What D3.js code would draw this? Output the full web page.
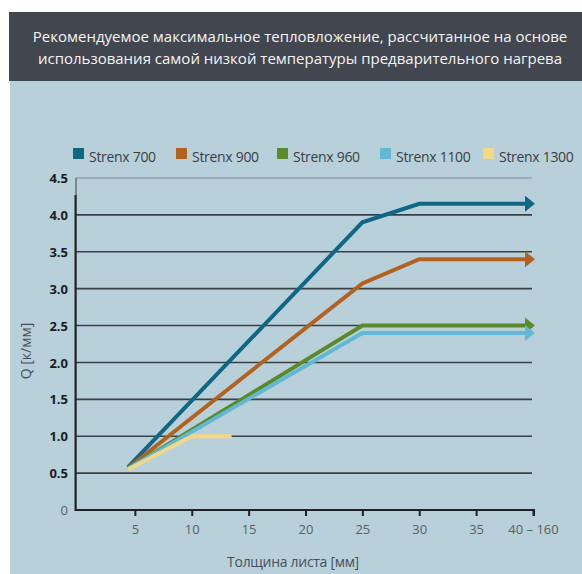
<!DOCTYPE html>
<html>
<head>
<meta charset="utf-8">
<script src="https://cdnjs.cloudflare.com/ajax/libs/d3/7.8.5/d3.min.js"></script>
<style>
  body { margin: 0; background: #fff; }
  svg { display: block; font-family: "Open Sans", "Noto Sans", sans-serif; }
</style>
</head>
<body>
<svg id="chart" width="582" height="574"></svg>
<script>
// Данные графика
const titleLines = ["Рекомендуемое максимальное тепловложение, рассчитанное на основе",
                    "использования самой низкой температуры предварительного нагрева"];
const seriesNames = ["Strenx 700", "Strenx 900", "Strenx 960", "Strenx 1100", "Strenx 1300"];
const seriesColors = ["#0f6883", "#b2611f", "#5b8a2b", "#62b7d5", "#f4d886"];
// точки: [толщина, Q]; 40 = "40 – 160"
const strenx700  = [[4.4, 0.58], [25, 3.9], [30, 4.15], [40, 4.15]];
const strenx900  = [[4.4, 0.57], [25, 3.07], [30, 3.4], [40, 3.4]];
const strenx960  = [[4.4, 0.56], [25, 2.5], [40, 2.5]];
const strenx1100 = [[4.4, 0.56], [25, 2.4], [40, 2.4]];
const strenx1300 = [[4.4, 0.55], [10, 1.0], [13.5, 1.0]];
const seriesData = [strenx700, strenx900, strenx960, strenx1100, strenx1300];
const hasArrow = [true, true, true, true, false];
const xTicks = [5, 10, 15, 20, 25, 30, 35, 40];
const xTickLabels = ["5", "10", "15", "20", "25", "30", "35", "40 – 160"];
const yTicks = [0, 0.5, 1.0, 1.5, 2.0, 2.5, 3.0, 3.5, 4.0, 4.5];
const xTitle = "Толщина листа [мм]";
const yTitle = "Q [к/мм]";

const svg = d3.select("#chart");

// фон
svg.append("rect").attr("x", 10).attr("y", 81).attr("width", 572).attr("height", 493).attr("fill", "#b8d0da");
svg.append("rect").attr("x", 9).attr("y", 12).attr("width", 573).attr("height", 69).attr("fill", "#42464f");
svg.selectAll(".title").data(titleLines).enter().append("text")
  .attr("x", 300).attr("y", (d, i) => 42 + i * 22)
  .attr("text-anchor", "middle").attr("fill", "#f4f4f4")
  .style("font-size", "15px").text(d => d);

const x = d3.scaleLinear().domain([0, 40]).range([78, 533]);
const y = d3.scaleLinear().domain([0, 4.5]).range([510, 178]);

// сетка
svg.append("g").selectAll("line").data(yTicks.filter(d => d > 0)).enter().append("line")
  .attr("x1", 76).attr("x2", 532)
  .attr("y1", d => y(d)).attr("y2", d => y(d))
  .attr("stroke", d => d === 4.5 ? "#7d8c94" : "#3b4045")
  .attr("stroke-width", d => d === 4.5 ? 1 : 1.6);

// оси
svg.append("line").attr("x1", 76).attr("x2", 76).attr("y1", 178).attr("y2", 511)
  .attr("stroke", "#3b4045").attr("stroke-width", 1);
svg.append("line").attr("x1", 75.5).attr("x2", 75.5).attr("y1", 195).attr("y2", 511)
  .attr("stroke", "#1e2226").attr("stroke-width", 2);

const xAxis = svg.append("g").attr("transform", "translate(0,510)")
  .call(d3.axisBottom(x).tickValues(xTicks).tickSize(6).tickFormat((d, i) => xTickLabels[i]));
xAxis.select(".domain").attr("d", "M75,0H534V6").attr("stroke", "#1e2226").attr("stroke-width", 2);
xAxis.selectAll(".tick line").attr("stroke", "#1e2226").attr("stroke-width", 2);
xAxis.selectAll(".tick text").attr("y", 15).attr("fill", "#5a5f64")
  .style("font-size", "13px").style("font-family", "'Open Sans', sans-serif");

const yAxis = svg.append("g").attr("transform", "translate(76,0)")
  .call(d3.axisLeft(y).tickValues(yTicks).tickSize(0).tickFormat(d => d === 0 ? "0" : d.toFixed(1)));
yAxis.select(".domain").remove();
yAxis.selectAll(".tick text").attr("x", -8).attr("dy", "0.35em")
  .attr("fill", d => d === 0 ? "#5a5f64" : "#1a1d20")
  .style("font-weight", d => d === 0 ? "normal" : "bold")
  .style("font-size", "13px").style("font-family", "'Open Sans', sans-serif");

// подписи осей
svg.append("text").attr("x", 293).attr("y", 567).attr("text-anchor", "middle")
  .attr("fill", "#4a4f54").style("font-size", "14px").style("letter-spacing", "-0.3px").text(xTitle);
svg.append("text").attr("transform", "translate(31,351) rotate(-90)").attr("text-anchor", "middle")
  .attr("fill", "#4a4f54").style("font-size", "14px").text(yTitle);

// линии
const line = d3.line().x(d => x(d[0])).y(d => y(d[1]));
const arrowLen = 10, arrowHalf = 8;
seriesData.forEach((pts, i) => {
  const last = pts[pts.length - 1];
  const linePts = hasArrow[i] ? pts.map((p, k) => k === pts.length - 1 ? [x.invert(x(p[0]) - arrowLen + 2), p[1]] : p) : pts;
  svg.append("path").datum(linePts).attr("d", line)
    .attr("fill", "none").attr("stroke", seriesColors[i]).attr("stroke-width", 4)
    .attr("stroke-linejoin", "miter");
  if (hasArrow[i]) {
    const tx = x(last[0]) + 2, ty = y(last[1]);
    svg.append("path")
      .attr("d", `M${tx},${ty}L${tx - arrowLen},${ty - arrowHalf}L${tx - arrowLen},${ty + arrowHalf}Z`)
      .attr("fill", seriesColors[i]);
  }
});

// легенда
const legendX = [73, 176, 277, 380, 483];
const legend = svg.append("g").selectAll("g").data(seriesNames).enter().append("g")
  .attr("transform", (d, i) => `translate(${legendX[i]},148)`);
legend.append("rect").attr("width", 11).attr("height", 11).attr("fill", (d, i) => seriesColors[i]);
legend.append("text").attr("x", 16).attr("y", 14).attr("fill", "#3a3f45")
  .style("font-size", "14px").style("letter-spacing", "-0.3px").text(d => d);
</script>
</body>
</html>
